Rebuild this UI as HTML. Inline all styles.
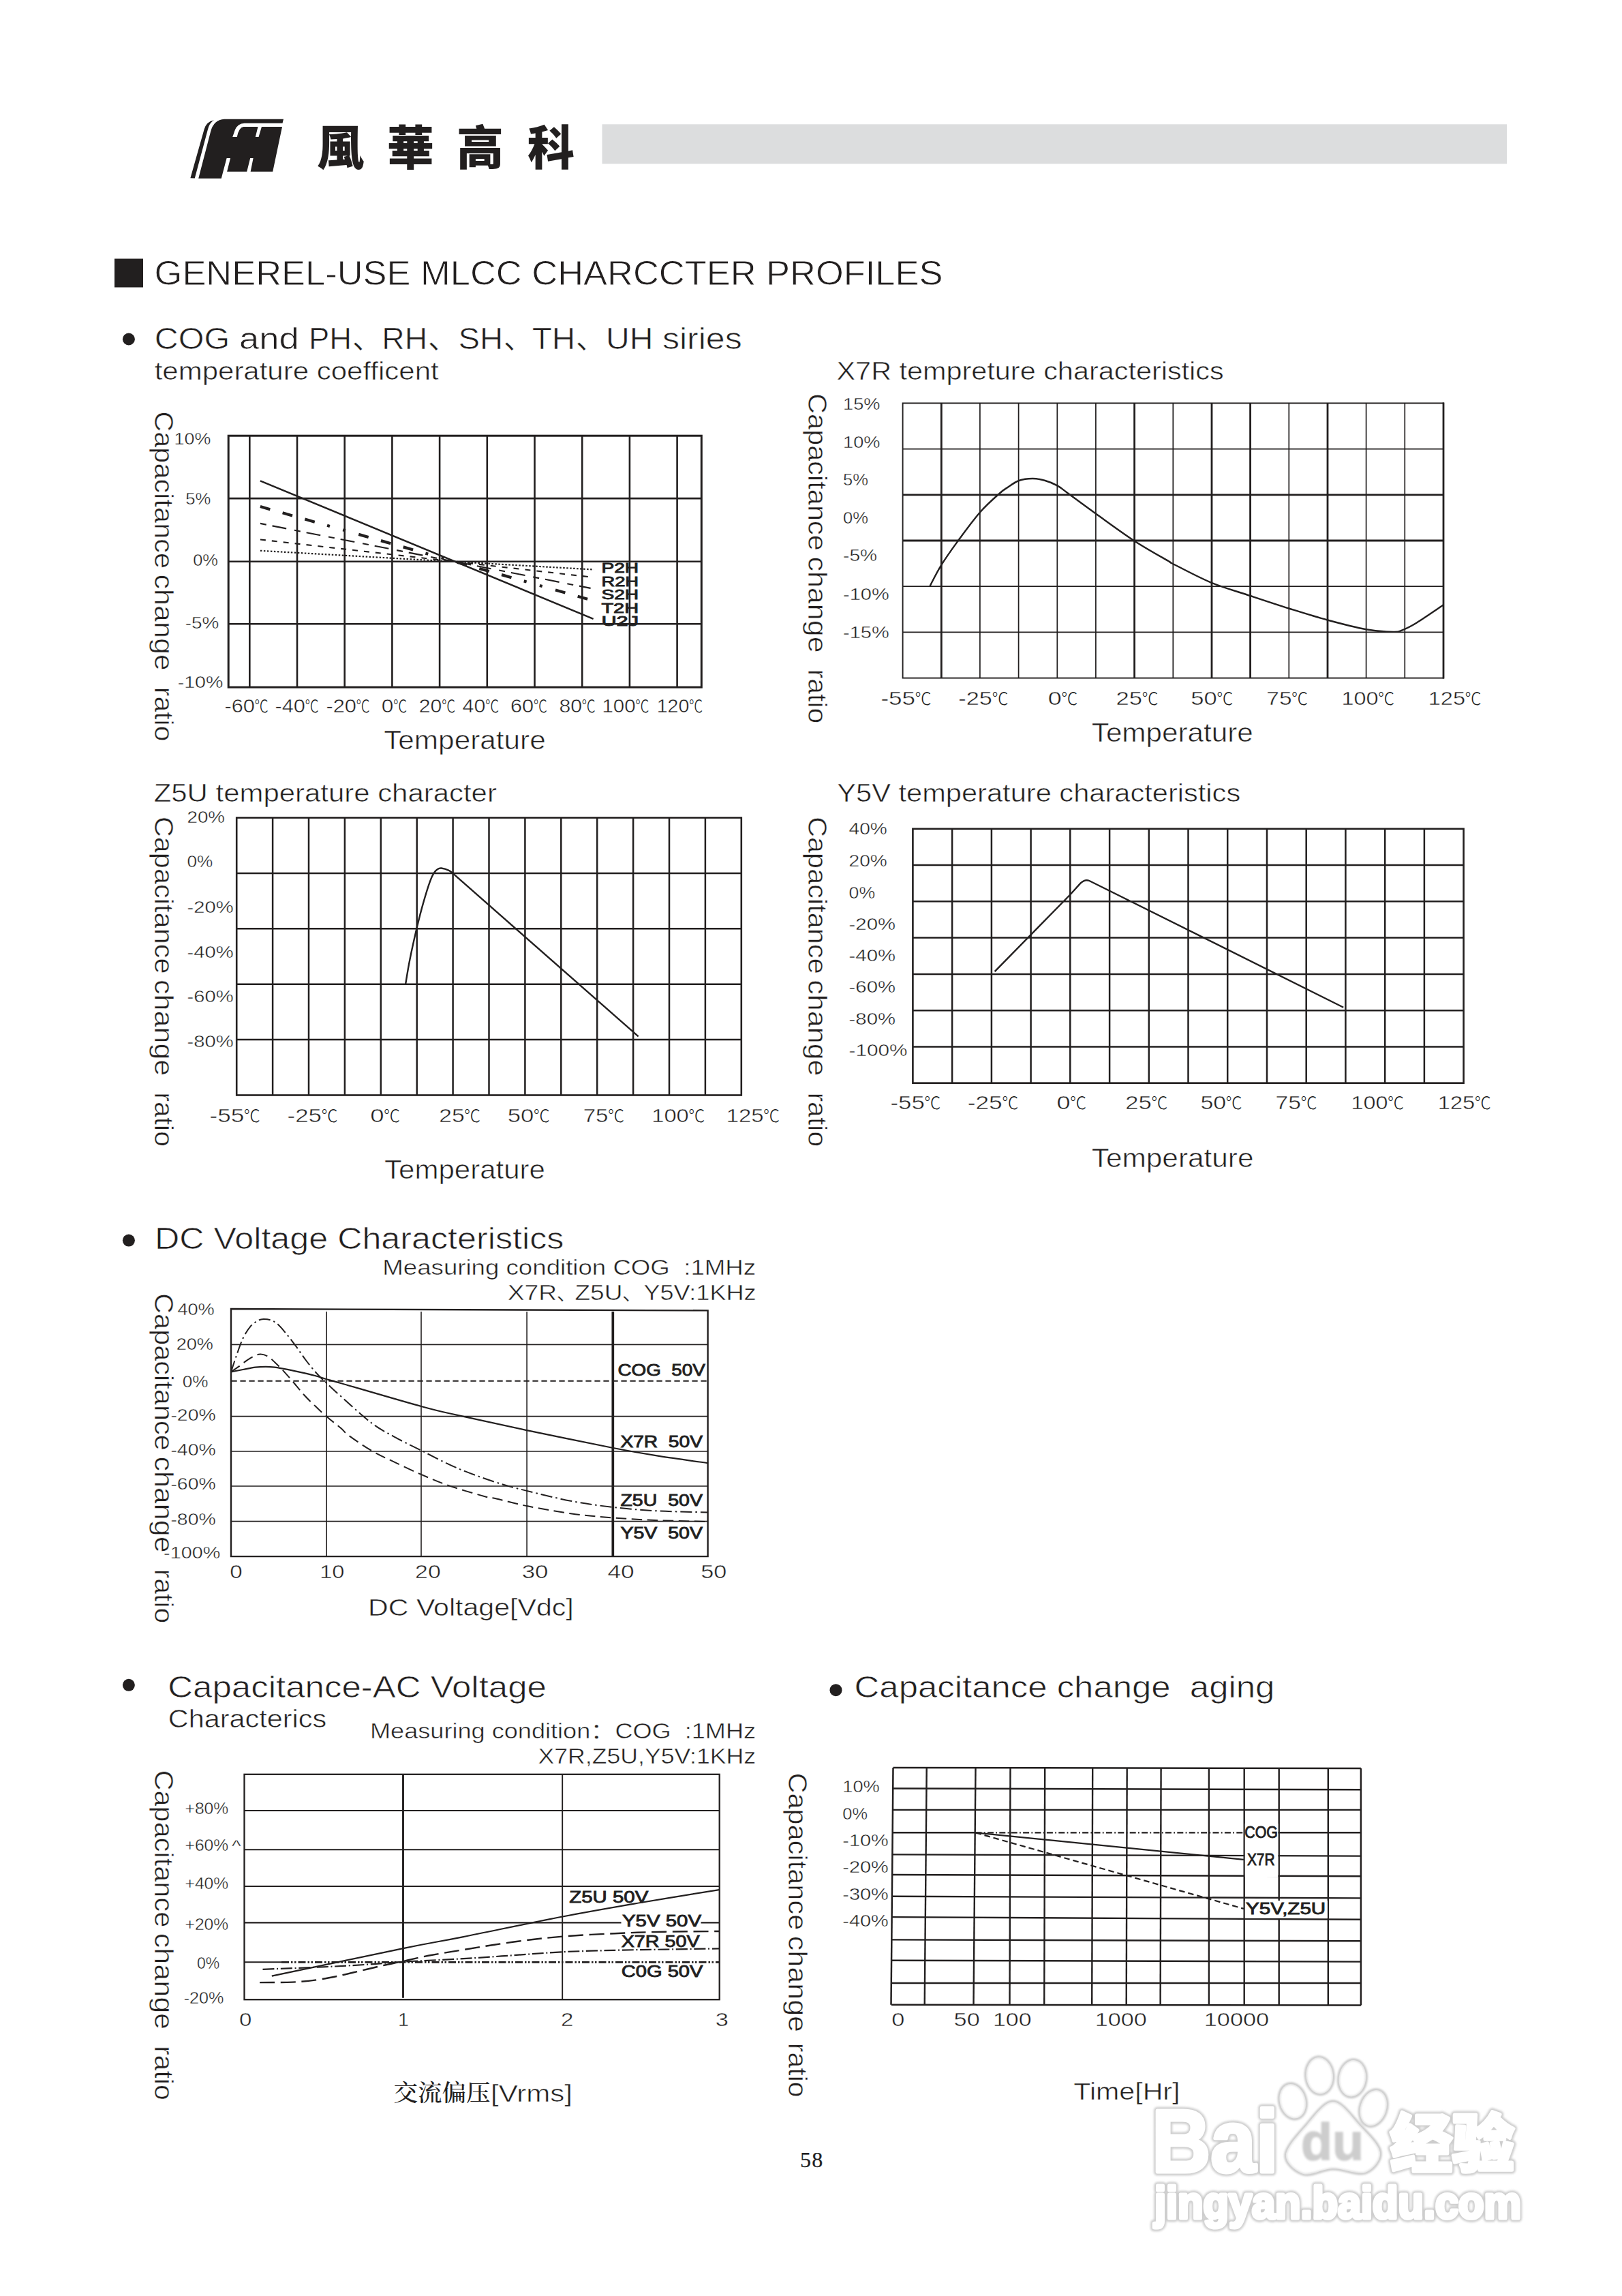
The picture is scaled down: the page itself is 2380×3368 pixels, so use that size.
<!DOCTYPE html>
<html lang="zh">
<head>
<meta charset="utf-8">
<title>GENEREL-USE MLCC CHARCCTER PROFILES</title>
<style>
html,body{margin:0;padding:0;background:#fff;}
body{width:2380px;height:3368px;overflow:hidden;}
svg{display:block;}
svg text{font-family:"Liberation Sans", "Noto Sans CJK SC", sans-serif;white-space:pre;}
</style>
</head>
<body>
<svg width="2380" height="3368" viewBox="0 0 2380 3368" fill="#221f1f">
<defs><filter id="wb2" x="-5%" y="-10%" width="110%" height="120%"><feGaussianBlur stdDeviation="0.7"/></filter><filter id="wb" x="-5%" y="-10%" width="110%" height="120%"><feGaussianBlur stdDeviation="1.6"/></filter></defs>
<rect width="2380" height="3368" fill="#fff"/>
<g filter="url(#wb)" fill="#cdcdcd" stroke="#cdcdcd" stroke-width="10.5" stroke-linejoin="round" font-weight="bold">
<text x="1690" y="3186" font-size="129" textLength="186" lengthAdjust="spacingAndGlyphs">Bai</text>
<text x="2040" y="3178" font-size="92" style='font-family:"Noto Sans CJK SC", sans-serif' font-weight="900" textLength="182" lengthAdjust="spacingAndGlyphs">经验</text>
<text x="1694" y="3254" font-size="66" textLength="538" lengthAdjust="spacingAndGlyphs">jingyan.baidu.com</text>
</g>
<g filter="url(#wb)" fill="none" stroke="#c9c9c9" stroke-width="5">
<ellipse cx="1896.8" cy="3082.3" rx="18.9" ry="25.7" transform="rotate(-15 1896.8 3082.3)"/>
<ellipse cx="1936.2" cy="3044.8" rx="19.7" ry="26.8" transform="rotate(-5 1936.2 3044.8)"/>
<ellipse cx="1984.4" cy="3048.8" rx="19.7" ry="26.8" transform="rotate(8 1984.4 3048.8)"/>
<ellipse cx="2015.2" cy="3092.2" rx="18.9" ry="26.8" transform="rotate(18 2015.2 3092.2)"/>
<path d="M1956.0,3083.1 C1969.1,3083.1 1983.9,3105.5 1995.4,3117.9 C2006.9,3130.2 2023.7,3145.8 2025.0,3157.3 C2026.4,3168.8 2014.8,3183.0 2003.3,3186.9 C1991.8,3190.9 1971.1,3180.7 1956.0,3181.0 C1940.8,3181.3 1924.1,3192.2 1912.6,3188.9 C1901.1,3185.6 1886.3,3173.1 1886.9,3161.3 C1887.6,3149.4 1905.0,3130.9 1916.5,3117.9 C1928.0,3104.8 1942.8,3083.1 1956.0,3083.1Z"/>
</g>
<g fill="#fff" stroke="#fff" stroke-width="5" stroke-linejoin="round" font-weight="bold" filter="url(#wb2)">
<text x="1690" y="3186" font-size="129" textLength="186" lengthAdjust="spacingAndGlyphs">Bai</text>
<text x="2040" y="3178" font-size="92" style='font-family:"Noto Sans CJK SC", sans-serif' font-weight="900" textLength="182" lengthAdjust="spacingAndGlyphs">经验</text>
<text x="1694" y="3254" font-size="66" textLength="538" lengthAdjust="spacingAndGlyphs">jingyan.baidu.com</text>
</g>
<g fill="#fff" stroke="none">
<ellipse cx="1896.8" cy="3082.3" rx="18.9" ry="25.7" transform="rotate(-15 1896.8 3082.3)"/>
<ellipse cx="1936.2" cy="3044.8" rx="19.7" ry="26.8" transform="rotate(-5 1936.2 3044.8)"/>
<ellipse cx="1984.4" cy="3048.8" rx="19.7" ry="26.8" transform="rotate(8 1984.4 3048.8)"/>
<ellipse cx="2015.2" cy="3092.2" rx="18.9" ry="26.8" transform="rotate(18 2015.2 3092.2)"/>
<path d="M1956.0,3083.1 C1969.1,3083.1 1983.9,3105.5 1995.4,3117.9 C2006.9,3130.2 2023.7,3145.8 2025.0,3157.3 C2026.4,3168.8 2014.8,3183.0 2003.3,3186.9 C1991.8,3190.9 1971.1,3180.7 1956.0,3181.0 C1940.8,3181.3 1924.1,3192.2 1912.6,3188.9 C1901.1,3185.6 1886.3,3173.1 1886.9,3161.3 C1887.6,3149.4 1905.0,3130.9 1916.5,3117.9 C1928.0,3104.8 1942.8,3083.1 1956.0,3083.1Z"/>
</g>
<g filter="url(#wb)" fill="none" stroke="#d0d0d0" stroke-width="2">
<ellipse cx="1896.8" cy="3082.3" rx="18.9" ry="25.7" transform="rotate(-15 1896.8 3082.3)"/>
<ellipse cx="1936.2" cy="3044.8" rx="19.7" ry="26.8" transform="rotate(-5 1936.2 3044.8)"/>
<ellipse cx="1984.4" cy="3048.8" rx="19.7" ry="26.8" transform="rotate(8 1984.4 3048.8)"/>
<ellipse cx="2015.2" cy="3092.2" rx="18.9" ry="26.8" transform="rotate(18 2015.2 3092.2)"/>
<path d="M1956.0,3083.1 C1969.1,3083.1 1983.9,3105.5 1995.4,3117.9 C2006.9,3130.2 2023.7,3145.8 2025.0,3157.3 C2026.4,3168.8 2014.8,3183.0 2003.3,3186.9 C1991.8,3190.9 1971.1,3180.7 1956.0,3181.0 C1940.8,3181.3 1924.1,3192.2 1912.6,3188.9 C1901.1,3185.6 1886.3,3173.1 1886.9,3161.3 C1887.6,3149.4 1905.0,3130.9 1916.5,3117.9 C1928.0,3104.8 1942.8,3083.1 1956.0,3083.1Z"/>
</g>
<text filter="url(#wb)" x="1909" y="3168" font-size="76" font-weight="bold" fill="#cdcdcd" stroke="#cdcdcd" stroke-width="1.5" textLength="92" lengthAdjust="spacingAndGlyphs">du</text>
<rect x="883.5" y="182.3" width="1327.5" height="58" fill="#dcddde" stroke="none"/>
<g transform="translate(270,165) scale(0.098644)" stroke="none"><path d="M95,975 L160,978 L352,262 Q378,150 445,114 Q335,135 300,250 Z"/><path d="M215,980 L395,290 Q440,108 600,100 L1480,100 L1465,160 L900,160 Q795,165 758,262 L722,365 L788,365 Q815,222 885,212 L1100,212 L1062,365 L1110,365 L1155,212 L1460,212 L1320,880 L990,880 L1030,680 L985,680 L935,880 L640,880 L690,680 L635,680 L555,980 Z"/></g>
<text y="241.5" font-size="69" font-weight="900" style='font-family:"Noto Sans CJK TC", "Noto Sans CJK SC", sans-serif' x="465 568 670 774" stroke="none">風華高科</text>
<rect x="168" y="379.5" width="42" height="42" stroke="none"/>
<text x="226.6" y="418.2" font-size="49.5" textLength="1156.9" lengthAdjust="spacingAndGlyphs" stroke="#fff" stroke-width="0.79" >GENEREL-USE MLCC CHARCCTER PROFILES</text>
<circle cx="188.9" cy="497.5" r="9" stroke="none"/>
<text x="226.8" y="511.8" font-size="45" textLength="110.4" lengthAdjust="spacingAndGlyphs" stroke="#fff" stroke-width="0.71" >COG</text>
<text x="351.1" y="511.8" font-size="45" textLength="87.6" lengthAdjust="spacingAndGlyphs" stroke="#fff" stroke-width="0.71" >and</text>
<text x="452.9" y="511.8" font-size="45" textLength="63.2" lengthAdjust="spacingAndGlyphs" stroke="#fff" stroke-width="0.71" >PH</text>
<text x="560.3" y="511.8" font-size="45" textLength="66.8" lengthAdjust="spacingAndGlyphs" stroke="#fff" stroke-width="0.71" >RH</text>
<text x="672.5" y="511.8" font-size="45" textLength="65.7" lengthAdjust="spacingAndGlyphs" stroke="#fff" stroke-width="0.71" >SH</text>
<text x="780.7" y="511.8" font-size="45" textLength="63.5" lengthAdjust="spacingAndGlyphs" stroke="#fff" stroke-width="0.71" >TH</text>
<text x="888.9" y="511.8" font-size="45" textLength="69.6" lengthAdjust="spacingAndGlyphs" stroke="#fff" stroke-width="0.71" >UH</text>
<text x="971.9" y="511.8" font-size="45" textLength="116.9" lengthAdjust="spacingAndGlyphs" stroke="#fff" stroke-width="0.71" >siries</text>
<text x="516.5" y="511.8" font-size="45" stroke="#fff" stroke-width="0.71" >、</text>
<text x="627.5" y="511.8" font-size="45" stroke="#fff" stroke-width="0.71" >、</text>
<text x="738.5" y="511.8" font-size="45" stroke="#fff" stroke-width="0.71" >、</text>
<text x="844.5" y="511.8" font-size="45" stroke="#fff" stroke-width="0.71" >、</text>
<text x="226.7" y="556.8" font-size="36" textLength="417.0" lengthAdjust="spacingAndGlyphs" stroke="#fff" stroke-width="0.56" >temperature coefficent</text>
<text x="1227.5" y="557.3" font-size="36" textLength="568.2" lengthAdjust="spacingAndGlyphs" stroke="#fff" stroke-width="0.56" >X7R tempreture characteristics</text>
<g stroke="#221f1f" fill="none">
<line x1="366.3" y1="639.2" x2="366.3" y2="1008.1" stroke-width="2.6" />
<line x1="436.0" y1="639.2" x2="436.0" y2="1008.1" stroke-width="2.6" />
<line x1="505.7" y1="639.2" x2="505.7" y2="1008.1" stroke-width="2.6" />
<line x1="575.4" y1="639.2" x2="575.4" y2="1008.1" stroke-width="2.6" />
<line x1="645.1" y1="639.2" x2="645.1" y2="1008.1" stroke-width="2.6" />
<line x1="714.8" y1="639.2" x2="714.8" y2="1008.1" stroke-width="2.6" />
<line x1="784.5" y1="639.2" x2="784.5" y2="1008.1" stroke-width="2.6" />
<line x1="854.2" y1="639.2" x2="854.2" y2="1008.1" stroke-width="2.6" />
<line x1="923.9" y1="639.2" x2="923.9" y2="1008.1" stroke-width="2.6" />
<line x1="993.6" y1="639.2" x2="993.6" y2="1008.1" stroke-width="2.6" />
<line x1="335.2" y1="731.1" x2="1029.3" y2="731.1" stroke-width="2.6" />
<line x1="335.2" y1="823.7" x2="1029.3" y2="823.7" stroke-width="2.6" />
<line x1="335.2" y1="915.3" x2="1029.3" y2="915.3" stroke-width="2.6" />
<rect x="335.2" y="639.2" width="694.1" height="368.9" fill="none" stroke-width="3.0"/>
<line x1="381.9" y1="705.3" x2="870.6" y2="907.9" stroke-width="2.5" />
<line x1="381.9" y1="743.1" x2="869.7" y2="880.9" stroke-width="4.2" stroke-dasharray="15 19 15 19 15 19 4 20 4 20" />
<line x1="381.9" y1="767.9" x2="866.6" y2="862.9" stroke-width="2.1" stroke-dasharray="9 9 21 12" />
<line x1="381.9" y1="791.5" x2="871.2" y2="847.0" stroke-width="2.1" stroke-dasharray="8 9" />
<line x1="381.9" y1="807.8" x2="871.2" y2="835.5" stroke-width="2.2" stroke-dasharray="2.5 2.5" />
</g>
<text x="882.4" y="840.4" font-size="20.5" textLength="54.7" lengthAdjust="spacingAndGlyphs" stroke="#221f1f" stroke-width="0.9" >P2H</text>
<text x="882.4" y="859.9" font-size="20.5" textLength="54.7" lengthAdjust="spacingAndGlyphs" stroke="#221f1f" stroke-width="0.9" >R2H</text>
<text x="882.4" y="879.0" font-size="20.5" textLength="54.7" lengthAdjust="spacingAndGlyphs" stroke="#221f1f" stroke-width="0.9" >S2H</text>
<text x="882.4" y="899.0" font-size="20.5" textLength="54.7" lengthAdjust="spacingAndGlyphs" stroke="#221f1f" stroke-width="0.9" >T2H</text>
<text x="882.4" y="918.4" font-size="20.5" textLength="54.7" lengthAdjust="spacingAndGlyphs" stroke="#221f1f" stroke-width="0.9" >U2J</text>
<text x="255.5" y="651.6" font-size="24.5" textLength="53.8" lengthAdjust="spacingAndGlyphs" stroke="#fff" stroke-width="0.37" >10%</text>
<text x="272.2" y="739.9" font-size="24.5" textLength="37.1" lengthAdjust="spacingAndGlyphs" stroke="#fff" stroke-width="0.37" >5%</text>
<text x="283.2" y="830.0" font-size="24.5" textLength="36.8" lengthAdjust="spacingAndGlyphs" stroke="#fff" stroke-width="0.37" >0%</text>
<text x="271.7" y="921.5" font-size="24.5" textLength="49.6" lengthAdjust="spacingAndGlyphs" stroke="#fff" stroke-width="0.37" >-5%</text>
<text x="260.7" y="1009.2" font-size="24.5" textLength="66.6" lengthAdjust="spacingAndGlyphs" stroke="#fff" stroke-width="0.37" >-10%</text>
<text x="329.5" y="1045.0" font-size="27.5" textLength="44.4" lengthAdjust="spacingAndGlyphs" stroke="#fff" stroke-width="0.42" >-60</text>
<text transform="translate(373.5,1045.0) scale(0.740,0.92)" font-size="27.5" font-weight="300" style='font-family:"Noto Sans CJK SC", sans-serif'>℃</text>
<text x="403.5" y="1045.0" font-size="27.5" textLength="44.5" lengthAdjust="spacingAndGlyphs" stroke="#fff" stroke-width="0.42" >-40</text>
<text transform="translate(447.6,1045.0) scale(0.740,0.92)" font-size="27.5" font-weight="300" style='font-family:"Noto Sans CJK SC", sans-serif'>℃</text>
<text x="478.4" y="1045.0" font-size="27.5" textLength="44.5" lengthAdjust="spacingAndGlyphs" stroke="#fff" stroke-width="0.42" >-20</text>
<text transform="translate(522.5,1045.0) scale(0.740,0.92)" font-size="27.5" font-weight="300" style='font-family:"Noto Sans CJK SC", sans-serif'>℃</text>
<text x="559.8" y="1045.0" font-size="27.5" textLength="17.6" lengthAdjust="spacingAndGlyphs" stroke="#fff" stroke-width="0.42" >0</text>
<text transform="translate(577.0,1045.0) scale(0.740,0.92)" font-size="27.5" font-weight="300" style='font-family:"Noto Sans CJK SC", sans-serif'>℃</text>
<text x="614.7" y="1045.0" font-size="27.5" textLength="33.6" lengthAdjust="spacingAndGlyphs" stroke="#fff" stroke-width="0.42" >20</text>
<text transform="translate(647.9,1045.0) scale(0.740,0.92)" font-size="27.5" font-weight="300" style='font-family:"Noto Sans CJK SC", sans-serif'>℃</text>
<text x="678.5" y="1045.0" font-size="27.5" textLength="33.8" lengthAdjust="spacingAndGlyphs" stroke="#fff" stroke-width="0.42" >40</text>
<text transform="translate(711.9,1045.0) scale(0.740,0.92)" font-size="27.5" font-weight="300" style='font-family:"Noto Sans CJK SC", sans-serif'>℃</text>
<text x="748.9" y="1045.0" font-size="27.5" textLength="34.2" lengthAdjust="spacingAndGlyphs" stroke="#fff" stroke-width="0.42" >60</text>
<text transform="translate(782.7,1045.0) scale(0.740,0.92)" font-size="27.5" font-weight="300" style='font-family:"Noto Sans CJK SC", sans-serif'>℃</text>
<text x="820.4" y="1045.0" font-size="27.5" textLength="33.6" lengthAdjust="spacingAndGlyphs" stroke="#fff" stroke-width="0.42" >80</text>
<text transform="translate(853.6,1045.0) scale(0.740,0.92)" font-size="27.5" font-weight="300" style='font-family:"Noto Sans CJK SC", sans-serif'>℃</text>
<text x="883.5" y="1045.0" font-size="27.5" textLength="49.1" lengthAdjust="spacingAndGlyphs" stroke="#fff" stroke-width="0.42" >100</text>
<text transform="translate(932.2,1045.0) scale(0.740,0.92)" font-size="27.5" font-weight="300" style='font-family:"Noto Sans CJK SC", sans-serif'>℃</text>
<text x="963.7" y="1045.0" font-size="27.5" textLength="47.6" lengthAdjust="spacingAndGlyphs" stroke="#fff" stroke-width="0.42" >120</text>
<text transform="translate(1010.9,1045.0) scale(0.740,0.92)" font-size="27.5" font-weight="300" style='font-family:"Noto Sans CJK SC", sans-serif'>℃</text>
<text x="563.2" y="1099.4" font-size="38" textLength="237.5" lengthAdjust="spacingAndGlyphs" stroke="#fff" stroke-width="0.60" >Temperature</text>
<text transform="translate(227.2,603.3) rotate(90)" font-size="38.5" textLength="230.8" lengthAdjust="spacingAndGlyphs" stroke="#fff" stroke-width="0.6">Capacitance</text>
<text transform="translate(227.2,842.6) rotate(90)" font-size="38.5" textLength="141.2" lengthAdjust="spacingAndGlyphs" stroke="#fff" stroke-width="0.6">change</text>
<text transform="translate(227.2,1007.7) rotate(90)" font-size="38.5" textLength="79.9" lengthAdjust="spacingAndGlyphs" stroke="#fff" stroke-width="0.6">ratio</text>
<g stroke="#221f1f" fill="none">
<line x1="1381.3" y1="591.4" x2="1381.3" y2="994.6" stroke-width="2.8" />
<line x1="1437.9" y1="591.4" x2="1437.9" y2="994.6" stroke-width="1.7" />
<line x1="1494.6" y1="591.4" x2="1494.6" y2="994.6" stroke-width="1.7" />
<line x1="1551.3" y1="591.4" x2="1551.3" y2="994.6" stroke-width="1.7" />
<line x1="1607.9" y1="591.4" x2="1607.9" y2="994.6" stroke-width="1.7" />
<line x1="1664.6" y1="591.4" x2="1664.6" y2="994.6" stroke-width="2.8" />
<line x1="1721.3" y1="591.4" x2="1721.3" y2="994.6" stroke-width="1.7" />
<line x1="1778.0" y1="591.4" x2="1778.0" y2="994.6" stroke-width="2.8" />
<line x1="1834.6" y1="591.4" x2="1834.6" y2="994.6" stroke-width="2.8" />
<line x1="1891.3" y1="591.4" x2="1891.3" y2="994.6" stroke-width="1.7" />
<line x1="1948.0" y1="591.4" x2="1948.0" y2="994.6" stroke-width="2.8" />
<line x1="2004.6" y1="591.4" x2="2004.6" y2="994.6" stroke-width="1.7" />
<line x1="2061.3" y1="591.4" x2="2061.3" y2="994.6" stroke-width="1.7" />
<line x1="1324.6" y1="658.6" x2="2118.0" y2="658.6" stroke-width="1.7" />
<line x1="1324.6" y1="725.8" x2="2118.0" y2="725.8" stroke-width="2.8" />
<line x1="1324.6" y1="793.0" x2="2118.0" y2="793.0" stroke-width="2.8" />
<line x1="1324.6" y1="860.2" x2="2118.0" y2="860.2" stroke-width="1.7" />
<line x1="1324.6" y1="927.4" x2="2118.0" y2="927.4" stroke-width="1.7" />
<rect x="1324.6" y="591.4" width="793.4" height="403.2" fill="none" stroke-width="1.9"/>
<line x1="2118.0" y1="590.5" x2="2118.0" y2="995.5" stroke-width="2.8" />
<path d="M1364.6,859.6 C1367.3,854.5 1374.6,839.5 1381.2,828.9 C1387.8,818.2 1394.7,808.5 1404.1,795.6 C1413.6,782.6 1427.7,763.2 1438.2,751.2 C1448.7,739.2 1460.4,729.4 1467.0,723.5 C1473.7,717.5 1473.4,718.4 1478.1,715.3 C1482.8,712.2 1489.0,707.2 1495.1,705.0 C1501.3,702.7 1508.7,702.0 1515.1,702.0 C1521.5,702.0 1527.6,703.2 1533.6,705.0 C1539.7,706.7 1545.8,709.3 1551.4,712.4 C1556.9,715.4 1557.4,716.5 1566.9,723.5 C1576.4,730.4 1592.0,742.1 1608.3,753.8 C1624.7,765.5 1647.2,782.1 1664.9,793.7 C1682.7,805.3 1705.5,817.8 1714.9,823.3 C1724.2,828.9 1710.6,821.8 1721.0,827.0 C1731.5,832.3 1758.7,846.9 1777.6,854.8 C1796.6,862.6 1815.7,867.7 1834.6,874.0 C1853.5,880.3 1872.3,886.6 1891.2,892.5 C1910.1,898.4 1928.9,904.4 1947.8,909.5 C1966.7,914.6 1988.2,920.3 2004.4,923.2 C2020.5,926.1 2035.8,926.7 2044.7,926.9 C2053.6,927.1 2052.1,926.5 2057.7,924.3 C2063.2,922.2 2068.0,920.1 2078.0,914.0 C2088.1,907.8 2111.3,891.8 2118.0,887.3" fill="none" stroke-width="2.4"/>
</g>
<text x="1237.1" y="601.4" font-size="24.5" textLength="54.4" lengthAdjust="spacingAndGlyphs" stroke="#fff" stroke-width="0.37" >15%</text>
<text x="1237.1" y="656.9" font-size="24.5" textLength="54.4" lengthAdjust="spacingAndGlyphs" stroke="#fff" stroke-width="0.37" >10%</text>
<text x="1237.1" y="712.4" font-size="24.5" textLength="37.0" lengthAdjust="spacingAndGlyphs" stroke="#fff" stroke-width="0.37" >5%</text>
<text x="1237.1" y="767.8" font-size="24.5" textLength="37.0" lengthAdjust="spacingAndGlyphs" stroke="#fff" stroke-width="0.37" >0%</text>
<text x="1237.1" y="823.3" font-size="24.5" textLength="50.0" lengthAdjust="spacingAndGlyphs" stroke="#fff" stroke-width="0.37" >-5%</text>
<text x="1237.1" y="879.6" font-size="24.5" textLength="67.7" lengthAdjust="spacingAndGlyphs" stroke="#fff" stroke-width="0.37" >-10%</text>
<text x="1237.1" y="936.2" font-size="24.5" textLength="67.7" lengthAdjust="spacingAndGlyphs" stroke="#fff" stroke-width="0.37" >-15%</text>
<text x="1292.4" y="1034.4" font-size="27.5" textLength="50.7" lengthAdjust="spacingAndGlyphs" stroke="#fff" stroke-width="0.42" >-55</text>
<text transform="translate(1342.6,1034.4) scale(0.880,0.92)" font-size="27.5" font-weight="300" style='font-family:"Noto Sans CJK SC", sans-serif'>℃</text>
<text x="1406.3" y="1034.4" font-size="27.5" textLength="49.6" lengthAdjust="spacingAndGlyphs" stroke="#fff" stroke-width="0.42" >-25</text>
<text transform="translate(1455.4,1034.4) scale(0.880,0.92)" font-size="27.5" font-weight="300" style='font-family:"Noto Sans CJK SC", sans-serif'>℃</text>
<text x="1537.7" y="1034.4" font-size="27.5" textLength="20.0" lengthAdjust="spacingAndGlyphs" stroke="#fff" stroke-width="0.42" >0</text>
<text transform="translate(1557.2,1034.4) scale(0.880,0.92)" font-size="27.5" font-weight="300" style='font-family:"Noto Sans CJK SC", sans-serif'>℃</text>
<text x="1637.5" y="1034.4" font-size="27.5" textLength="38.5" lengthAdjust="spacingAndGlyphs" stroke="#fff" stroke-width="0.42" >25</text>
<text transform="translate(1675.5,1034.4) scale(0.880,0.92)" font-size="27.5" font-weight="300" style='font-family:"Noto Sans CJK SC", sans-serif'>℃</text>
<text x="1747.3" y="1034.4" font-size="27.5" textLength="38.5" lengthAdjust="spacingAndGlyphs" stroke="#fff" stroke-width="0.42" >50</text>
<text transform="translate(1785.3,1034.4) scale(0.880,0.92)" font-size="27.5" font-weight="300" style='font-family:"Noto Sans CJK SC", sans-serif'>℃</text>
<text x="1858.3" y="1034.4" font-size="27.5" textLength="37.3" lengthAdjust="spacingAndGlyphs" stroke="#fff" stroke-width="0.42" >75</text>
<text transform="translate(1895.1,1034.4) scale(0.880,0.92)" font-size="27.5" font-weight="300" style='font-family:"Noto Sans CJK SC", sans-serif'>℃</text>
<text x="1968.5" y="1034.4" font-size="27.5" textLength="54.0" lengthAdjust="spacingAndGlyphs" stroke="#fff" stroke-width="0.42" >100</text>
<text transform="translate(2022.0,1034.4) scale(0.880,0.92)" font-size="27.5" font-weight="300" style='font-family:"Noto Sans CJK SC", sans-serif'>℃</text>
<text x="2095.7" y="1034.4" font-size="27.5" textLength="54.4" lengthAdjust="spacingAndGlyphs" stroke="#fff" stroke-width="0.42" >125</text>
<text transform="translate(2149.6,1034.4) scale(0.880,0.92)" font-size="27.5" font-weight="300" style='font-family:"Noto Sans CJK SC", sans-serif'>℃</text>
<text x="1601.8" y="1087.5" font-size="38" textLength="236.9" lengthAdjust="spacingAndGlyphs" stroke="#fff" stroke-width="0.60" >Temperature</text>
<text transform="translate(1186.2,577.1) rotate(90)" font-size="38.5" textLength="230.8" lengthAdjust="spacingAndGlyphs" stroke="#fff" stroke-width="0.6">Capacitance</text>
<text transform="translate(1186.2,816.4) rotate(90)" font-size="38.5" textLength="141.2" lengthAdjust="spacingAndGlyphs" stroke="#fff" stroke-width="0.6">change</text>
<text transform="translate(1186.2,981.5) rotate(90)" font-size="38.5" textLength="79.9" lengthAdjust="spacingAndGlyphs" stroke="#fff" stroke-width="0.6">ratio</text>
<text x="225.7" y="1175.8" font-size="36" textLength="503.2" lengthAdjust="spacingAndGlyphs" stroke="#fff" stroke-width="0.56" >Z5U temperature character</text>
<g stroke="#221f1f" fill="none">
<line x1="400.1" y1="1199.5" x2="400.1" y2="1606.5" stroke-width="2.5" />
<line x1="453.0" y1="1199.5" x2="453.0" y2="1606.5" stroke-width="2.5" />
<line x1="505.9" y1="1199.5" x2="505.9" y2="1606.5" stroke-width="2.5" />
<line x1="558.8" y1="1199.5" x2="558.8" y2="1606.5" stroke-width="2.5" />
<line x1="611.7" y1="1199.5" x2="611.7" y2="1606.5" stroke-width="2.5" />
<line x1="664.6" y1="1199.5" x2="664.6" y2="1606.5" stroke-width="2.5" />
<line x1="717.5" y1="1199.5" x2="717.5" y2="1606.5" stroke-width="2.5" />
<line x1="770.4" y1="1199.5" x2="770.4" y2="1606.5" stroke-width="2.5" />
<line x1="823.3" y1="1199.5" x2="823.3" y2="1606.5" stroke-width="2.5" />
<line x1="876.2" y1="1199.5" x2="876.2" y2="1606.5" stroke-width="2.5" />
<line x1="929.1" y1="1199.5" x2="929.1" y2="1606.5" stroke-width="2.5" />
<line x1="982.0" y1="1199.5" x2="982.0" y2="1606.5" stroke-width="2.5" />
<line x1="1034.9" y1="1199.5" x2="1034.9" y2="1606.5" stroke-width="2.5" />
<line x1="347.2" y1="1280.9" x2="1087.8" y2="1280.9" stroke-width="2.5" />
<line x1="347.2" y1="1362.3" x2="1087.8" y2="1362.3" stroke-width="2.5" />
<line x1="347.2" y1="1443.7" x2="1087.8" y2="1443.7" stroke-width="2.5" />
<line x1="347.2" y1="1525.1" x2="1087.8" y2="1525.1" stroke-width="2.5" />
<rect x="347.2" y="1199.5" width="740.6" height="407.0" fill="none" stroke-width="2.6"/>
<path d="M595.1,1443.7 C596.1,1437.6 598.6,1421.0 601.4,1407.4 C604.1,1393.9 608.0,1376.5 611.3,1362.3 C614.7,1348.1 618.4,1333.9 621.7,1322.4 C625.0,1310.8 628.5,1299.7 631.0,1292.8 C633.4,1285.9 634.7,1283.9 636.5,1280.9 C638.4,1278.0 640.2,1276.2 642.1,1275.0 C643.9,1273.8 644.8,1273.2 647.6,1273.5 C650.4,1273.8 655.9,1275.6 658.7,1276.9 C661.5,1278.1 663.3,1280.2 664.2,1280.9" fill="none" stroke-width="2.4"/>
<line x1="664.2" y1="1280.9" x2="936.7" y2="1520.3" stroke-width="2.4" />
</g>
<text x="274.5" y="1206.9" font-size="24.5" textLength="55.5" lengthAdjust="spacingAndGlyphs" stroke="#fff" stroke-width="0.37" >20%</text>
<text x="274.5" y="1272.4" font-size="24.5" textLength="37.8" lengthAdjust="spacingAndGlyphs" stroke="#fff" stroke-width="0.37" >0%</text>
<text x="274.5" y="1339.0" font-size="24.5" textLength="68.1" lengthAdjust="spacingAndGlyphs" stroke="#fff" stroke-width="0.37" >-20%</text>
<text x="274.5" y="1404.5" font-size="24.5" textLength="68.1" lengthAdjust="spacingAndGlyphs" stroke="#fff" stroke-width="0.37" >-40%</text>
<text x="274.5" y="1470.3" font-size="24.5" textLength="68.1" lengthAdjust="spacingAndGlyphs" stroke="#fff" stroke-width="0.37" >-60%</text>
<text x="274.5" y="1536.2" font-size="24.5" textLength="68.1" lengthAdjust="spacingAndGlyphs" stroke="#fff" stroke-width="0.37" >-80%</text>
<text x="307.6" y="1646.2" font-size="27.5" textLength="50.7" lengthAdjust="spacingAndGlyphs" stroke="#fff" stroke-width="0.42" >-55</text>
<text transform="translate(357.8,1646.2) scale(0.880,0.92)" font-size="27.5" font-weight="300" style='font-family:"Noto Sans CJK SC", sans-serif'>℃</text>
<text x="421.6" y="1646.2" font-size="27.5" textLength="50.3" lengthAdjust="spacingAndGlyphs" stroke="#fff" stroke-width="0.42" >-25</text>
<text transform="translate(471.4,1646.2) scale(0.880,0.92)" font-size="27.5" font-weight="300" style='font-family:"Noto Sans CJK SC", sans-serif'>℃</text>
<text x="543.3" y="1646.2" font-size="27.5" textLength="20.3" lengthAdjust="spacingAndGlyphs" stroke="#fff" stroke-width="0.42" >0</text>
<text transform="translate(563.1,1646.2) scale(0.880,0.92)" font-size="27.5" font-weight="300" style='font-family:"Noto Sans CJK SC", sans-serif'>℃</text>
<text x="644.2" y="1646.2" font-size="27.5" textLength="37.4" lengthAdjust="spacingAndGlyphs" stroke="#fff" stroke-width="0.42" >25</text>
<text transform="translate(681.1,1646.2) scale(0.880,0.92)" font-size="27.5" font-weight="300" style='font-family:"Noto Sans CJK SC", sans-serif'>℃</text>
<text x="744.7" y="1646.2" font-size="27.5" textLength="38.5" lengthAdjust="spacingAndGlyphs" stroke="#fff" stroke-width="0.42" >50</text>
<text transform="translate(782.7,1646.2) scale(0.880,0.92)" font-size="27.5" font-weight="300" style='font-family:"Noto Sans CJK SC", sans-serif'>℃</text>
<text x="855.7" y="1646.2" font-size="27.5" textLength="36.7" lengthAdjust="spacingAndGlyphs" stroke="#fff" stroke-width="0.42" >75</text>
<text transform="translate(891.9,1646.2) scale(0.880,0.92)" font-size="27.5" font-weight="300" style='font-family:"Noto Sans CJK SC", sans-serif'>℃</text>
<text x="956.3" y="1646.2" font-size="27.5" textLength="54.4" lengthAdjust="spacingAndGlyphs" stroke="#fff" stroke-width="0.42" >100</text>
<text transform="translate(1010.2,1646.2) scale(0.880,0.92)" font-size="27.5" font-weight="300" style='font-family:"Noto Sans CJK SC", sans-serif'>℃</text>
<text x="1065.8" y="1646.2" font-size="27.5" textLength="54.8" lengthAdjust="spacingAndGlyphs" stroke="#fff" stroke-width="0.42" >125</text>
<text transform="translate(1120.1,1646.2) scale(0.880,0.92)" font-size="27.5" font-weight="300" style='font-family:"Noto Sans CJK SC", sans-serif'>℃</text>
<text x="564.1" y="1729.3" font-size="38" textLength="235.8" lengthAdjust="spacingAndGlyphs" stroke="#fff" stroke-width="0.60" >Temperature</text>
<text transform="translate(227.2,1197.8) rotate(90)" font-size="38.5" textLength="230.8" lengthAdjust="spacingAndGlyphs" stroke="#fff" stroke-width="0.6">Capacitance</text>
<text transform="translate(227.2,1437.1) rotate(90)" font-size="38.5" textLength="141.2" lengthAdjust="spacingAndGlyphs" stroke="#fff" stroke-width="0.6">change</text>
<text transform="translate(227.2,1602.2) rotate(90)" font-size="38.5" textLength="79.9" lengthAdjust="spacingAndGlyphs" stroke="#fff" stroke-width="0.6">ratio</text>
<text x="1228.3" y="1175.8" font-size="36" textLength="591.9" lengthAdjust="spacingAndGlyphs" stroke="#fff" stroke-width="0.56" >Y5V temperature characteristics</text>
<g stroke="#221f1f" fill="none">
<line x1="1397.1" y1="1215.8" x2="1397.1" y2="1588.7" stroke-width="2.5" />
<line x1="1454.9" y1="1215.8" x2="1454.9" y2="1588.7" stroke-width="2.5" />
<line x1="1512.6" y1="1215.8" x2="1512.6" y2="1588.7" stroke-width="2.5" />
<line x1="1570.3" y1="1215.8" x2="1570.3" y2="1588.7" stroke-width="2.5" />
<line x1="1628.1" y1="1215.8" x2="1628.1" y2="1588.7" stroke-width="2.5" />
<line x1="1685.8" y1="1215.8" x2="1685.8" y2="1588.7" stroke-width="2.5" />
<line x1="1743.5" y1="1215.8" x2="1743.5" y2="1588.7" stroke-width="2.5" />
<line x1="1801.2" y1="1215.8" x2="1801.2" y2="1588.7" stroke-width="2.5" />
<line x1="1859.0" y1="1215.8" x2="1859.0" y2="1588.7" stroke-width="2.5" />
<line x1="1916.7" y1="1215.8" x2="1916.7" y2="1588.7" stroke-width="2.5" />
<line x1="1974.4" y1="1215.8" x2="1974.4" y2="1588.7" stroke-width="2.5" />
<line x1="2032.2" y1="1215.8" x2="2032.2" y2="1588.7" stroke-width="2.5" />
<line x1="2089.9" y1="1215.8" x2="2089.9" y2="1588.7" stroke-width="2.5" />
<line x1="1339.4" y1="1269.1" x2="2147.6" y2="1269.1" stroke-width="2.5" />
<line x1="1339.4" y1="1322.3" x2="2147.6" y2="1322.3" stroke-width="2.5" />
<line x1="1339.4" y1="1375.6" x2="2147.6" y2="1375.6" stroke-width="2.5" />
<line x1="1339.4" y1="1428.9" x2="2147.6" y2="1428.9" stroke-width="2.5" />
<line x1="1339.4" y1="1482.2" x2="2147.6" y2="1482.2" stroke-width="2.5" />
<line x1="1339.4" y1="1535.4" x2="2147.6" y2="1535.4" stroke-width="2.5" />
<rect x="1339.4" y="1215.8" width="808.2" height="372.9" fill="none" stroke-width="2.6"/>
<path d="M1459.6,1425.2 L1570.6,1312.0 L1585.4,1295.7 Q1592.1,1289.3 1598.4,1292.0 L1971.2,1477.7" stroke-width="2.4"/>
</g>
<text x="1245.6" y="1224.3" font-size="24.5" textLength="56.3" lengthAdjust="spacingAndGlyphs" stroke="#fff" stroke-width="0.37" >40%</text>
<text x="1245.6" y="1271.3" font-size="24.5" textLength="56.3" lengthAdjust="spacingAndGlyphs" stroke="#fff" stroke-width="0.37" >20%</text>
<text x="1245.6" y="1317.5" font-size="24.5" textLength="38.5" lengthAdjust="spacingAndGlyphs" stroke="#fff" stroke-width="0.37" >0%</text>
<text x="1245.6" y="1363.8" font-size="24.5" textLength="68.5" lengthAdjust="spacingAndGlyphs" stroke="#fff" stroke-width="0.37" >-20%</text>
<text x="1245.6" y="1410.4" font-size="24.5" textLength="68.5" lengthAdjust="spacingAndGlyphs" stroke="#fff" stroke-width="0.37" >-40%</text>
<text x="1245.6" y="1456.3" font-size="24.5" textLength="68.5" lengthAdjust="spacingAndGlyphs" stroke="#fff" stroke-width="0.37" >-60%</text>
<text x="1245.6" y="1502.9" font-size="24.5" textLength="68.5" lengthAdjust="spacingAndGlyphs" stroke="#fff" stroke-width="0.37" >-80%</text>
<text x="1245.6" y="1549.1" font-size="24.5" textLength="85.9" lengthAdjust="spacingAndGlyphs" stroke="#fff" stroke-width="0.37" >-100%</text>
<text x="1306.5" y="1627.0" font-size="27.5" textLength="50.3" lengthAdjust="spacingAndGlyphs" stroke="#fff" stroke-width="0.42" >-55</text>
<text transform="translate(1356.3,1627.0) scale(0.880,0.92)" font-size="27.5" font-weight="300" style='font-family:"Noto Sans CJK SC", sans-serif'>℃</text>
<text x="1419.7" y="1627.0" font-size="27.5" textLength="51.0" lengthAdjust="spacingAndGlyphs" stroke="#fff" stroke-width="0.42" >-25</text>
<text transform="translate(1470.2,1627.0) scale(0.880,0.92)" font-size="27.5" font-weight="300" style='font-family:"Noto Sans CJK SC", sans-serif'>℃</text>
<text x="1550.6" y="1627.0" font-size="27.5" textLength="20.0" lengthAdjust="spacingAndGlyphs" stroke="#fff" stroke-width="0.42" >0</text>
<text transform="translate(1570.1,1627.0) scale(0.880,0.92)" font-size="27.5" font-weight="300" style='font-family:"Noto Sans CJK SC", sans-serif'>℃</text>
<text x="1651.2" y="1627.0" font-size="27.5" textLength="38.5" lengthAdjust="spacingAndGlyphs" stroke="#fff" stroke-width="0.42" >25</text>
<text transform="translate(1689.2,1627.0) scale(0.880,0.92)" font-size="27.5" font-weight="300" style='font-family:"Noto Sans CJK SC", sans-serif'>℃</text>
<text x="1761.4" y="1627.0" font-size="27.5" textLength="37.7" lengthAdjust="spacingAndGlyphs" stroke="#fff" stroke-width="0.42" >50</text>
<text transform="translate(1798.6,1627.0) scale(0.880,0.92)" font-size="27.5" font-weight="300" style='font-family:"Noto Sans CJK SC", sans-serif'>℃</text>
<text x="1871.6" y="1627.0" font-size="27.5" textLength="37.4" lengthAdjust="spacingAndGlyphs" stroke="#fff" stroke-width="0.42" >75</text>
<text transform="translate(1908.5,1627.0) scale(0.880,0.92)" font-size="27.5" font-weight="300" style='font-family:"Noto Sans CJK SC", sans-serif'>℃</text>
<text x="1982.6" y="1627.0" font-size="27.5" textLength="54.0" lengthAdjust="spacingAndGlyphs" stroke="#fff" stroke-width="0.42" >100</text>
<text transform="translate(2036.1,1627.0) scale(0.880,0.92)" font-size="27.5" font-weight="300" style='font-family:"Noto Sans CJK SC", sans-serif'>℃</text>
<text x="2109.8" y="1627.0" font-size="27.5" textLength="54.4" lengthAdjust="spacingAndGlyphs" stroke="#fff" stroke-width="0.42" >125</text>
<text transform="translate(2163.7,1627.0) scale(0.880,0.92)" font-size="27.5" font-weight="300" style='font-family:"Noto Sans CJK SC", sans-serif'>℃</text>
<text x="1601.8" y="1711.5" font-size="38" textLength="237.7" lengthAdjust="spacingAndGlyphs" stroke="#fff" stroke-width="0.60" >Temperature</text>
<text transform="translate(1186.2,1198.0) rotate(90)" font-size="38.5" textLength="230.8" lengthAdjust="spacingAndGlyphs" stroke="#fff" stroke-width="0.6">Capacitance</text>
<text transform="translate(1186.2,1437.3) rotate(90)" font-size="38.5" textLength="141.2" lengthAdjust="spacingAndGlyphs" stroke="#fff" stroke-width="0.6">change</text>
<text transform="translate(1186.2,1602.4) rotate(90)" font-size="38.5" textLength="79.9" lengthAdjust="spacingAndGlyphs" stroke="#fff" stroke-width="0.6">ratio</text>
<circle cx="188.9" cy="1819.6" r="9" stroke="none"/>
<text x="227.0" y="1831.8" font-size="45" textLength="600.4" lengthAdjust="spacingAndGlyphs" stroke="#fff" stroke-width="0.71" >DC Voltage Characteristics</text>
<text x="561.3" y="1869.5" font-size="31.5" textLength="547.8" lengthAdjust="spacingAndGlyphs" stroke="#fff" stroke-width="0.49" xml:space="preserve">Measuring condition COG  :1MHz</text>
<text x="744.7" y="1907.0" font-size="31.5" textLength="72.5" lengthAdjust="spacingAndGlyphs" stroke="#fff" stroke-width="0.49" >X7R</text>
<text x="843.5" y="1907.0" font-size="31.5" textLength="69.9" lengthAdjust="spacingAndGlyphs" stroke="#fff" stroke-width="0.49" >Z5U</text>
<text x="944.5" y="1907.0" font-size="31.5" textLength="165.0" lengthAdjust="spacingAndGlyphs" stroke="#fff" stroke-width="0.49" >Y5V:1KHz</text>
<text x="816.5" y="1907.0" font-size="30" stroke="#fff" stroke-width="0.46" >、</text>
<text x="912.8" y="1907.0" font-size="30" stroke="#fff" stroke-width="0.46" >、</text>
<g stroke="#221f1f" fill="none">
<line x1="339.4" y1="1972.4" x2="1038.6" y2="1972.4" stroke-width="1.7" />
<line x1="339.4" y1="2025.7" x2="1038.6" y2="2025.7" stroke-width="1.9" stroke-dasharray="8.3 4.7" />
<line x1="339.4" y1="2077.6" x2="1038.6" y2="2077.6" stroke-width="1.7" />
<line x1="339.4" y1="2129.0" x2="1038.6" y2="2129.0" stroke-width="1.7" />
<line x1="339.4" y1="2180.0" x2="1038.6" y2="2180.0" stroke-width="1.7" />
<line x1="339.4" y1="2231.7" x2="1038.6" y2="2231.7" stroke-width="1.7" />
<line x1="479.2" y1="1924.0" x2="479.2" y2="2283.1" stroke-width="1.6" />
<line x1="618.0" y1="1924.0" x2="618.0" y2="2283.1" stroke-width="1.6" />
<line x1="773.1" y1="1924.0" x2="773.1" y2="2283.1" stroke-width="1.6" />
<line x1="899.3" y1="1924.0" x2="899.3" y2="2283.1" stroke-width="3.7" />
<path d="M339,2283.1 L339,1920 L1038.6,1922.4 L1038.6,2283.1 Z" stroke-width="2.4"/>
<path d="M339.0,2012.4 C342.0,2011.8 350.6,2010.1 356.5,2009.0 C362.5,2007.9 369.3,2006.4 374.8,2005.7 C380.4,2005.0 385.1,2004.9 389.8,2004.9 C394.5,2004.9 399.0,2005.2 403.1,2005.7 C407.3,2006.2 409.0,2006.6 414.8,2007.7 C420.6,2008.8 430.0,2010.6 438.1,2012.4 C446.1,2014.1 456.2,2016.4 463.1,2018.2 C469.9,2020.0 473.0,2021.4 479.2,2023.2 C485.4,2025.0 476.9,2022.4 500.0,2029.0 C523.1,2035.6 589.5,2055.2 618.0,2063.0 C646.5,2070.8 645.1,2070.1 671.0,2075.9 C696.8,2081.8 735.0,2090.1 773.1,2098.1 C811.2,2106.1 867.3,2117.7 899.6,2124.0 C931.9,2130.3 943.7,2132.2 966.9,2135.9 C990.2,2139.6 1027.0,2144.5 1039.0,2146.2" fill="none" stroke-width="2.2"/>
<path d="M339.0,2012.4 C340.3,2008.6 343.6,1998.1 346.5,1989.9 C349.4,1981.7 352.9,1970.7 356.5,1963.2 C360.1,1955.8 364.3,1949.4 368.2,1944.9 C372.1,1940.5 376.6,1938.3 379.8,1936.6 C383.0,1934.9 384.5,1935.0 387.3,1934.9 C390.1,1934.9 393.3,1935.2 396.5,1936.3 C399.7,1937.4 402.9,1938.6 406.5,1941.6 C410.1,1944.6 413.7,1948.8 418.1,1954.1 C422.6,1959.4 427.8,1966.2 433.1,1973.2 C438.4,1980.3 444.2,1989.3 449.7,1996.5 C455.3,2003.8 461.5,2011.1 466.4,2016.5 C471.3,2021.9 473.6,2023.7 479.2,2029.0 C484.8,2034.3 489.1,2038.5 500.0,2048.1 C510.9,2057.8 531.7,2077.2 544.7,2087.0 C557.7,2096.9 565.8,2100.6 578.0,2107.4 C590.2,2114.2 602.5,2120.0 618.0,2127.7 C633.5,2135.4 652.9,2145.9 671.0,2153.6 C689.1,2161.3 709.4,2168.4 726.5,2174.0 C743.5,2179.5 754.6,2182.3 773.1,2186.9 C791.6,2191.5 816.4,2197.7 837.4,2201.7 C858.5,2205.7 878.0,2208.5 899.6,2211.0 C921.2,2213.4 943.7,2215.3 966.9,2216.5 C990.2,2217.7 1027.0,2218.0 1039.0,2218.4" fill="none" stroke-width="2.0" stroke-dasharray="17 5 2.5 5"/>
<path d="M339.0,2012.4 C340.8,2011.1 345.8,2007.8 349.9,2004.9 C353.9,2002.0 359.0,1997.7 363.2,1994.9 C367.3,1992.1 371.5,1989.6 374.8,1988.2 C378.2,1986.8 380.1,1986.3 383.2,1986.6 C386.2,1986.8 389.8,1987.9 393.1,1989.9 C396.5,1991.8 399.5,1994.9 403.1,1998.2 C406.7,2001.5 410.6,2005.4 414.8,2009.9 C418.9,2014.3 422.8,2018.7 428.1,2024.8 C433.4,2030.9 440.6,2040.1 446.4,2046.5 C452.2,2052.9 457.6,2057.9 463.1,2063.1 C468.5,2068.4 473.0,2072.8 479.2,2078.1 C485.4,2083.4 494.6,2090.2 500.0,2094.8 C505.4,2099.3 504.0,2100.0 511.4,2105.5 C518.9,2111.0 533.6,2121.2 544.7,2127.7 C555.8,2134.2 565.8,2138.5 578.0,2144.4 C590.2,2150.2 604.4,2157.0 618.0,2162.9 C631.5,2168.7 643.2,2174.0 659.4,2179.5 C675.5,2185.1 703.7,2193.1 714.9,2196.2 C726.1,2199.2 716.8,2195.8 726.5,2198.0 C736.2,2200.2 754.6,2205.4 773.1,2209.1 C791.6,2212.8 816.4,2217.3 837.4,2220.2 C858.5,2223.1 878.0,2224.8 899.6,2226.5 C921.2,2228.2 943.7,2229.3 966.9,2230.2 C990.2,2231.1 1027.0,2231.7 1039.0,2232.0" fill="none" stroke-width="2.0" stroke-dasharray="15.5 7.5"/>
</g>
<text transform="translate(227.2,1897.1) rotate(90)" font-size="38.5" textLength="230.8" lengthAdjust="spacingAndGlyphs" stroke="#fff" stroke-width="0.6">Capacitance</text>
<text transform="translate(227.2,2136.4) rotate(90)" font-size="38.5" textLength="141.2" lengthAdjust="spacingAndGlyphs" stroke="#fff" stroke-width="0.6">change</text>
<text transform="translate(227.2,2301.5) rotate(90)" font-size="38.5" textLength="79.9" lengthAdjust="spacingAndGlyphs" stroke="#fff" stroke-width="0.6">ratio</text>
<text x="260.4" y="1929.1" font-size="24.5" textLength="54.4" lengthAdjust="spacingAndGlyphs" stroke="#fff" stroke-width="0.37" >40%</text>
<text x="258.7" y="1979.8" font-size="24.5" textLength="54.3" lengthAdjust="spacingAndGlyphs" stroke="#fff" stroke-width="0.37" >20%</text>
<text x="267.8" y="2034.5" font-size="24.5" textLength="37.8" lengthAdjust="spacingAndGlyphs" stroke="#fff" stroke-width="0.37" >0%</text>
<text x="250.4" y="2084.1" font-size="24.5" textLength="66.3" lengthAdjust="spacingAndGlyphs" stroke="#fff" stroke-width="0.37" >-20%</text>
<text x="250.4" y="2135.1" font-size="24.5" textLength="66.3" lengthAdjust="spacingAndGlyphs" stroke="#fff" stroke-width="0.37" >-40%</text>
<text x="250.4" y="2185.1" font-size="24.5" textLength="66.3" lengthAdjust="spacingAndGlyphs" stroke="#fff" stroke-width="0.37" >-60%</text>
<text x="250.4" y="2236.9" font-size="24.5" textLength="66.3" lengthAdjust="spacingAndGlyphs" stroke="#fff" stroke-width="0.37" >-80%</text>
<text x="240.1" y="2286.0" font-size="24.5" textLength="83.2" lengthAdjust="spacingAndGlyphs" stroke="#fff" stroke-width="0.37" >-100%</text>
<text x="337.2" y="2315.0" font-size="27.5" textLength="18.4" lengthAdjust="spacingAndGlyphs" stroke="#fff" stroke-width="0.42" >0</text>
<text x="469.2" y="2315.0" font-size="27.5" textLength="36.2" lengthAdjust="spacingAndGlyphs" stroke="#fff" stroke-width="0.42" >10</text>
<text x="609.1" y="2315.0" font-size="27.5" textLength="37.6" lengthAdjust="spacingAndGlyphs" stroke="#fff" stroke-width="0.42" >20</text>
<text x="765.7" y="2315.0" font-size="27.5" textLength="38.7" lengthAdjust="spacingAndGlyphs" stroke="#fff" stroke-width="0.42" >30</text>
<text x="891.4" y="2315.0" font-size="27.5" textLength="39.2" lengthAdjust="spacingAndGlyphs" stroke="#fff" stroke-width="0.42" >40</text>
<text x="1028.3" y="2315.0" font-size="27.5" textLength="38.1" lengthAdjust="spacingAndGlyphs" stroke="#fff" stroke-width="0.42" >50</text>
<text x="540.1" y="2369.5" font-size="35" textLength="301.7" lengthAdjust="spacingAndGlyphs" stroke="#fff" stroke-width="0.55" >DC Voltage[Vdc]</text>
<text x="906.4" y="2017.5" font-size="24.5" textLength="128.4" lengthAdjust="spacingAndGlyphs" stroke="#221f1f" stroke-width="0.9" xml:space="preserve">COG  50V</text>
<text x="910.4" y="2122.7" font-size="24.5" textLength="120.6" lengthAdjust="spacingAndGlyphs" stroke="#221f1f" stroke-width="0.9" xml:space="preserve">X7R  50V</text>
<text x="910.4" y="2208.8" font-size="24.5" textLength="120.6" lengthAdjust="spacingAndGlyphs" stroke="#221f1f" stroke-width="0.9" xml:space="preserve">Z5U  50V</text>
<text x="910.4" y="2257.2" font-size="24.5" textLength="120.6" lengthAdjust="spacingAndGlyphs" stroke="#221f1f" stroke-width="0.9" xml:space="preserve">Y5V  50V</text>
<circle cx="188.9" cy="2471.8" r="9" stroke="none"/>
<text x="246.3" y="2490.3" font-size="45" textLength="555.6" lengthAdjust="spacingAndGlyphs" stroke="#fff" stroke-width="0.71" >Capacitance-AC Voltage</text>
<text x="246.8" y="2534.3" font-size="36" textLength="232.4" lengthAdjust="spacingAndGlyphs" stroke="#fff" stroke-width="0.56" >Characterics</text>
<text x="543.0" y="2549.5" font-size="31.5" textLength="566.1" lengthAdjust="spacingAndGlyphs" stroke="#fff" stroke-width="0.49" xml:space="preserve">Measuring condition：COG  :1MHz</text>
<text x="789.5" y="2587.2" font-size="31.5" textLength="319.6" lengthAdjust="spacingAndGlyphs" stroke="#fff" stroke-width="0.49" >X7R,Z5U,Y5V:1KHz</text>
<g stroke="#221f1f" fill="none">
<line x1="358.5" y1="2656.0" x2="1055.7" y2="2656.0" stroke-width="2.1" />
<line x1="358.5" y1="2713.3" x2="1055.7" y2="2713.3" stroke-width="2.1" />
<line x1="358.5" y1="2767.0" x2="1055.7" y2="2767.0" stroke-width="2.1" />
<line x1="358.5" y1="2820.4" x2="1055.7" y2="2820.4" stroke-width="2.1" />
<line x1="591.5" y1="2602.8" x2="591.5" y2="2930.7" stroke-width="2.9" />
<line x1="825.2" y1="2602.8" x2="825.2" y2="2933.2" stroke-width="1.9" />
<rect x="358.5" y="2602.8" width="697.2" height="330.4" stroke-width="2.3"/>
<line x1="358.5" y1="2878.3" x2="413.0" y2="2878.3" stroke-width="2.1" />
<line x1="413.0" y1="2878.3" x2="1055.7" y2="2878.3" stroke-width="2.8" stroke-dasharray="11 3 2.5 2.5 2.5 3" />
<path d="M398.8,2898.7 C430.9,2892.0 544.6,2867.7 591.5,2858.1 C638.3,2848.5 641.0,2848.9 680.0,2841.1 C719.0,2833.3 782.2,2819.8 825.5,2811.5 C868.8,2803.2 901.7,2797.6 940.0,2791.0 C978.3,2784.4 1036.1,2775.2 1055.3,2772.1" fill="none" stroke-width="2.2"/>
<path d="M381.1,2908.1 C389.0,2908.0 414.9,2908.2 428.8,2907.6 C442.7,2907.0 453.2,2905.8 464.3,2904.3 C475.4,2902.8 484.6,2901.0 495.4,2898.7 C506.1,2896.5 517.6,2893.6 528.7,2891.0 C539.8,2888.4 551.5,2885.5 561.9,2883.2 C572.4,2880.9 580.4,2879.4 591.5,2877.0 C602.6,2874.6 613.8,2871.6 628.5,2868.8 C643.3,2866.0 659.1,2863.5 680.0,2860.1 C700.9,2856.7 729.8,2851.8 754.0,2848.5 C778.2,2845.2 800.8,2842.7 825.5,2840.6 C850.2,2838.5 876.9,2837.3 902.0,2836.2 C927.1,2835.0 950.5,2834.2 976.0,2833.7 C1001.5,2833.2 1042.1,2833.1 1055.3,2833.0" fill="none" stroke-width="2.4" stroke-dasharray="22 8.6"/>
<path d="M385.5,2888.8 C400.1,2888.2 447.5,2886.6 473.2,2885.4 C498.9,2884.2 520.0,2882.9 539.8,2881.7 C559.5,2880.4 568.1,2879.1 591.5,2877.7 C614.8,2876.2 652.9,2874.8 680.0,2873.2 C707.1,2871.6 729.8,2869.8 754.0,2868.2 C778.2,2866.5 800.8,2864.5 825.5,2863.3 C850.2,2862.1 876.9,2861.4 902.0,2860.8 C927.1,2860.2 950.5,2860.0 976.0,2859.6 C1001.5,2859.2 1042.1,2858.6 1055.3,2858.4" fill="none" stroke-width="2.2" stroke-dasharray="17 3.7 2 3.7"/>
</g>
<rect x="911.5" y="2806.5" width="117" height="23" fill="#fff" stroke="none"/>
<text x="271.5" y="2661.2" font-size="24.5" textLength="63.7" lengthAdjust="spacingAndGlyphs" stroke="#fff" stroke-width="0.37" >+80%</text>
<text x="271.5" y="2714.8" font-size="24.5" textLength="63.7" lengthAdjust="spacingAndGlyphs" stroke="#fff" stroke-width="0.37" >+60%</text>
<text x="271.5" y="2770.7" font-size="24.5" textLength="63.7" lengthAdjust="spacingAndGlyphs" stroke="#fff" stroke-width="0.37" >+40%</text>
<text x="271.5" y="2831.3" font-size="24.5" textLength="63.7" lengthAdjust="spacingAndGlyphs" stroke="#fff" stroke-width="0.37" >+20%</text>
<text x="288.9" y="2888.0" font-size="24.5" textLength="33.3" lengthAdjust="spacingAndGlyphs" stroke="#fff" stroke-width="0.37" >0%</text>
<text x="269.7" y="2939.0" font-size="24.5" textLength="58.8" lengthAdjust="spacingAndGlyphs" stroke="#fff" stroke-width="0.37" >-20%</text>
<text x="340.0" y="2716.0" font-size="24.5" textLength="13.7" lengthAdjust="spacingAndGlyphs" stroke="#fff" stroke-width="0.37" >^</text>
<text x="350.9" y="2971.6" font-size="27.5" textLength="18.4" lengthAdjust="spacingAndGlyphs" stroke="#fff" stroke-width="0.42" >0</text>
<text x="583.9" y="2971.6" font-size="27.5" textLength="15.9" lengthAdjust="spacingAndGlyphs" stroke="#fff" stroke-width="0.42" >1</text>
<text x="823.0" y="2971.6" font-size="27.5" textLength="18.4" lengthAdjust="spacingAndGlyphs" stroke="#fff" stroke-width="0.42" >2</text>
<text x="1049.8" y="2971.6" font-size="27.5" textLength="19.1" lengthAdjust="spacingAndGlyphs" stroke="#fff" stroke-width="0.42" >3</text>
<text x="577.5" y="3081.5" font-size="34.5" textLength="142.0" lengthAdjust="spacingAndGlyphs" font-weight="500" style='font-family:"Noto Serif CJK SC", serif' >交流偏压</text>
<text x="720.1" y="3083.3" font-size="34.5" textLength="119.8" lengthAdjust="spacingAndGlyphs" stroke="#fff" stroke-width="0.54" >[Vrms]</text>
<text transform="translate(227.2,2596.5) rotate(90)" font-size="38.5" textLength="230.8" lengthAdjust="spacingAndGlyphs" stroke="#fff" stroke-width="0.6">Capacitance</text>
<text transform="translate(227.2,2835.8) rotate(90)" font-size="38.5" textLength="141.2" lengthAdjust="spacingAndGlyphs" stroke="#fff" stroke-width="0.6">change</text>
<text transform="translate(227.2,3000.9) rotate(90)" font-size="38.5" textLength="79.9" lengthAdjust="spacingAndGlyphs" stroke="#fff" stroke-width="0.6">ratio</text>
<text x="835.3" y="2791.3" font-size="24.5" textLength="116.0" lengthAdjust="spacingAndGlyphs" stroke="#221f1f" stroke-width="0.9" >Z5U 50V</text>
<text x="913.0" y="2826.3" font-size="24.5" textLength="116.0" lengthAdjust="spacingAndGlyphs" stroke="#221f1f" stroke-width="0.9" >Y5V 50V</text>
<text x="911.7" y="2855.9" font-size="24.5" textLength="114.9" lengthAdjust="spacingAndGlyphs" stroke="#221f1f" stroke-width="0.9" >X7R 50V</text>
<text x="911.7" y="2900.3" font-size="24.5" textLength="119.8" lengthAdjust="spacingAndGlyphs" stroke="#221f1f" stroke-width="0.9" >C0G 50V</text>
<circle cx="1226.5" cy="2479.2" r="9" stroke="none"/>
<text x="1253.6" y="2490.3" font-size="45" textLength="616.8" lengthAdjust="spacingAndGlyphs" stroke="#fff" stroke-width="0.71" xml:space="preserve">Capacitance change  aging</text>
<g stroke="#221f1f" fill="none">
<line x1="1310.5" y1="2593.1" x2="1996.9" y2="2593.9" stroke-width="2.5" />
<line x1="1310.2" y1="2623.5" x2="1996.9" y2="2625.3" stroke-width="2.4" />
<line x1="1310.0" y1="2654.9" x2="1996.9" y2="2654.9" stroke-width="2.4" />
<line x1="1310.5" y1="2688.2" x2="1431.5" y2="2688.2" stroke-width="2.4" />
<line x1="1874.0" y1="2688.2" x2="1996.9" y2="2688.2" stroke-width="2.4" />
<line x1="1309.5" y1="2720.4" x2="1996.9" y2="2722.6" stroke-width="2.4" />
<line x1="1309.2" y1="2750.0" x2="1996.9" y2="2752.2" stroke-width="2.4" />
<line x1="1309.0" y1="2781.8" x2="1996.9" y2="2784.4" stroke-width="2.4" />
<line x1="1308.8" y1="2812.1" x2="1996.9" y2="2815.8" stroke-width="2.4" />
<line x1="1308.5" y1="2845.4" x2="1996.9" y2="2847.3" stroke-width="2.4" />
<line x1="1308.2" y1="2875.7" x2="1996.9" y2="2877.6" stroke-width="2.4" />
<line x1="1308.0" y1="2909.0" x2="1996.9" y2="2909.0" stroke-width="2.4" />
<line x1="1307.8" y1="2940.8" x2="1996.9" y2="2941.6" stroke-width="2.5" />
<line x1="1310.5" y1="2593.1" x2="1307.5" y2="2940.8" stroke-width="2.5" />
<line x1="1359.7" y1="2593.2" x2="1356.7" y2="2940.9" stroke-width="2.4" />
<line x1="1431.5" y1="2593.2" x2="1428.5" y2="2940.9" stroke-width="2.4" />
<line x1="1482.5" y1="2593.3" x2="1481.5" y2="2941.0" stroke-width="2.4" />
<line x1="1533.2" y1="2593.4" x2="1532.2" y2="2941.1" stroke-width="2.4" />
<line x1="1603.2" y1="2593.4" x2="1602.2" y2="2941.1" stroke-width="2.4" />
<line x1="1653.7" y1="2593.5" x2="1652.7" y2="2941.2" stroke-width="2.4" />
<line x1="1703.6" y1="2593.6" x2="1702.6" y2="2941.3" stroke-width="2.4" />
<line x1="1773.9" y1="2593.6" x2="1773.9" y2="2941.3" stroke-width="2.4" />
<line x1="1825.7" y1="2593.7" x2="1825.7" y2="2941.4" stroke-width="2.4" />
<line x1="1876.7" y1="2593.8" x2="1876.7" y2="2941.5" stroke-width="2.4" />
<line x1="1948.8" y1="2593.8" x2="1948.8" y2="2941.5" stroke-width="2.4" />
<line x1="1996.9" y1="2593.9" x2="1996.9" y2="2941.6" stroke-width="2.5" />
</g>
<rect x="1826.8" y="2675" width="48.5" height="78" fill="#fff" stroke="none"/>
<rect x="1826.8" y="2788" width="121" height="26" fill="#fff" stroke="none"/>
<g stroke="#221f1f" fill="none">
<line x1="1431.5" y1="2688.4" x2="1825.7" y2="2688.4" stroke-width="2.2" stroke-dasharray="9 3.3 1.8 3.3" />
<line x1="1431.5" y1="2688.4" x2="1824.9" y2="2727.8" stroke-width="2.2" />
<line x1="1431.5" y1="2688.4" x2="1824.9" y2="2799.9" stroke-width="2.2" stroke-dasharray="8.5 5" />
</g>
<text x="1826.2" y="2695.6" font-size="24" textLength="48.7" lengthAdjust="spacingAndGlyphs" stroke="#221f1f" stroke-width="0.9" >COG</text>
<text x="1829.9" y="2736.3" font-size="24" textLength="40.6" lengthAdjust="spacingAndGlyphs" stroke="#221f1f" stroke-width="0.9" >X7R</text>
<text x="1828.0" y="2808.4" font-size="24" textLength="117.2" lengthAdjust="spacingAndGlyphs" stroke="#221f1f" stroke-width="0.9" >Y5V,Z5U</text>
<text x="1236.3" y="2629.0" font-size="24.5" textLength="54.4" lengthAdjust="spacingAndGlyphs" stroke="#fff" stroke-width="0.37" >10%</text>
<text x="1236.3" y="2668.6" font-size="24.5" textLength="36.7" lengthAdjust="spacingAndGlyphs" stroke="#fff" stroke-width="0.37" >0%</text>
<text x="1236.3" y="2707.8" font-size="24.5" textLength="67.4" lengthAdjust="spacingAndGlyphs" stroke="#fff" stroke-width="0.37" >-10%</text>
<text x="1236.3" y="2747.4" font-size="24.5" textLength="67.4" lengthAdjust="spacingAndGlyphs" stroke="#fff" stroke-width="0.37" >-20%</text>
<text x="1236.3" y="2787.0" font-size="24.5" textLength="67.4" lengthAdjust="spacingAndGlyphs" stroke="#fff" stroke-width="0.37" >-30%</text>
<text x="1236.3" y="2826.2" font-size="24.5" textLength="67.4" lengthAdjust="spacingAndGlyphs" stroke="#fff" stroke-width="0.37" >-40%</text>
<text x="1308.3" y="2971.6" font-size="27.5" textLength="19.1" lengthAdjust="spacingAndGlyphs" stroke="#fff" stroke-width="0.42" >0</text>
<text x="1399.6" y="2971.6" font-size="27.5" textLength="38.1" lengthAdjust="spacingAndGlyphs" stroke="#fff" stroke-width="0.42" >50</text>
<text x="1457.0" y="2971.6" font-size="27.5" textLength="56.5" lengthAdjust="spacingAndGlyphs" stroke="#fff" stroke-width="0.42" >100</text>
<text x="1606.8" y="2971.6" font-size="27.5" textLength="76.1" lengthAdjust="spacingAndGlyphs" stroke="#fff" stroke-width="0.42" >1000</text>
<text x="1766.8" y="2971.6" font-size="27.5" textLength="95.4" lengthAdjust="spacingAndGlyphs" stroke="#fff" stroke-width="0.42" >10000</text>
<text x="1575.3" y="3080.0" font-size="35.5" textLength="156.2" lengthAdjust="spacingAndGlyphs" stroke="#fff" stroke-width="0.55" >Time[Hr]</text>
<text transform="translate(1157.2,2600.5) rotate(90)" font-size="38.5" textLength="230.8" lengthAdjust="spacingAndGlyphs" stroke="#fff" stroke-width="0.6">Capacitance</text>
<text transform="translate(1157.2,2839.8) rotate(90)" font-size="38.5" textLength="141.2" lengthAdjust="spacingAndGlyphs" stroke="#fff" stroke-width="0.6">change</text>
<text transform="translate(1157.2,2996.8) rotate(90)" font-size="38.5" textLength="79.8" lengthAdjust="spacingAndGlyphs" stroke="#fff" stroke-width="0.6">ratio</text>
<text x="1174" y="3178.9" font-size="32" letter-spacing="1.2" stroke="#221f1f" stroke-width="0.25" style='font-family:"Liberation Serif", serif'>58</text>
</svg>
</body>
</html>
